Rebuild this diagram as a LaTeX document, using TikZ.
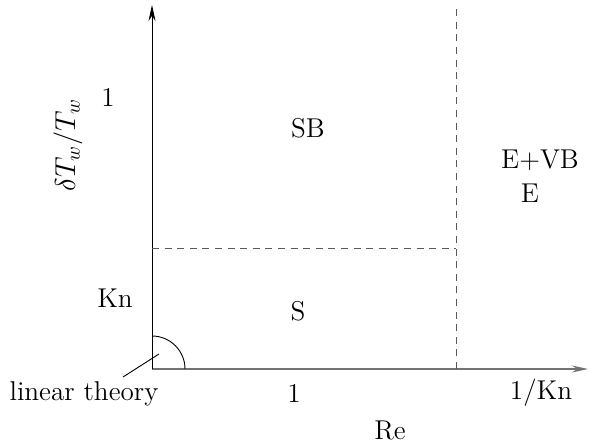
\documentclass[tikz,border=0pt]{standalone}
\usepackage{tikz}
\usetikzlibrary{arrows.meta}

\begin{document}
\begin{tikzpicture}[
    x=0.5pt, y=0.5pt,
    font=\fontsize{13.6}{16}\selectfont,
    axis/.style={-{Stealth[length=8pt,width=3.5pt]}, line width=0.45pt},
    regline/.style={dash pattern=on 3.5pt off 2.8pt, line width=0.45pt, black!65}
  ]
    \useasboundingbox (-152,-77) rectangle (437,369);
    % axes
    \coordinate (o) at (0,0);
    \coordinate (xend) at (436,0);
    \coordinate (yend) at (0,364);
    \draw[axis, black!55, line width=0.6pt] (o) -- (xend);
    \draw[axis] (o) -- (yend);
    % region borders
    \coordinate (vb) at (304,0);
    \coordinate (vt) at (304,364);
    \coordinate (hl) at (0,121);
    \coordinate (hr) at (304,121);
    \draw[regline] (vb) -- (vt);
    \draw[regline] (hl) -- (hr);
    % labels
    \node (one) at (-44,272) {1};
    \node (kn) at (-37,71) {Kn};
    \node (sb) at (156,241) {SB};
    \node (s) at (146,58) {S};
    \node (evb) at (388,209) {E+VB};
    \node (e) at (378,176) {E};
    \node (onex) at (142,-24) {1};
    \node (invkn) at (389,-24) {1/Kn};
    \node (re) at (238,-61) {Re};
    \node[rotate=90] (dt) at (-84,224) {$\delta T_w/T_w$};
    \node (lin) at (-68,-25) {linear theory};
    % linear theory marker
    \draw[line width=0.45pt] (33,0) arc (0:90:33);
    \coordinate (ls) at (-29,-8);
    \coordinate (lt) at (7,15);
    \draw[line width=0.45pt] (ls) -- (lt);
\end{tikzpicture}
\end{document}
